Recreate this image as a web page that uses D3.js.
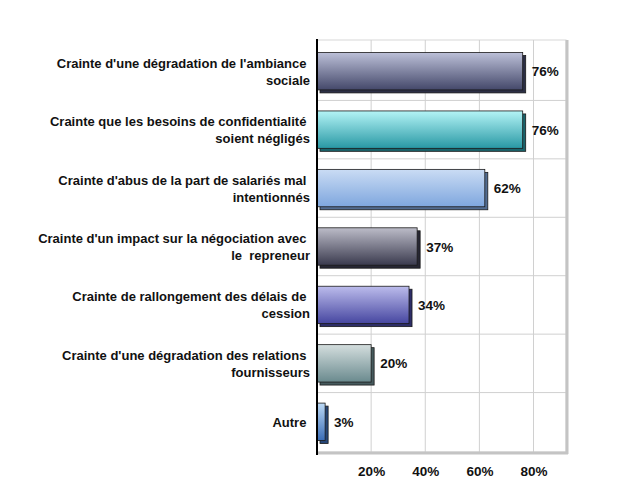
<!DOCTYPE html>
<html>
<head>
<meta charset="utf-8">
<script src="https://cdn.jsdelivr.net/npm/d3@7"></script>
<style>
  body { margin: 0; background: #fff; }
  text { font-family: "Liberation Sans", Arial, sans-serif; font-weight: bold; }
</style>
</head>
<body>
<svg id="chart"></svg>
<script>
// Category labels (two lines each, as in the original)
const labels = [
    ["Crainte d'une dégradation de l'ambiance ", "sociale"],
    ["Crainte que les besoins de confidentialité ", "soient négligés"],
    ["Crainte d'abus de la part de salariés mal ", "intentionnés"],
    ["Crainte d'un impact sur la négociation avec ", "le  repreneur"],
    ["Crainte de rallongement des délais de ", "cession"],
    ["Crainte d'une dégradation des relations ", "fournisseurs"],
    ["Autre "]
];
const values = [76, 76, 62, 37, 34, 20, 3];
const ticks = [20, 40, 60, 80];
const topColors = ["#bcc0d8", "#b4f4f6", "#cadcf4", "#bcbcc8", "#bcbcec", "#d4dede", "#bcdaf6"];
const bottomColors = ["#44486a", "#2898a4", "#7ea6de", "#3a3a4e", "#4646a0", "#6a8a8e", "#3a6cb6"];

const width = 640, height = 497;
const plot = { left: 317, right: 566, top: 42, bottom: 451 };

const svg = d3.select("#chart")
    .attr("width", width)
    .attr("height", height);

const idx = d3.range(values.length);

const x = d3.scaleLinear()
    .domain([0, 92])
    .range([plot.left, plot.right]);

const y = d3.scaleBand()
    .domain(idx)
    .range([plot.top, plot.bottom])
    .paddingInner(0.36)
    .paddingOuter(0.18);

const step = y.step();

// Gradients for bar faces
const defs = svg.append("defs");
idx.forEach(i => {
    const g = defs.append("linearGradient")
        .attr("id", "grad" + i)
        .attr("x1", 0).attr("y1", 0).attr("x2", 0).attr("y2", 1);
    g.append("stop").attr("offset", "0%").attr("stop-color", topColors[i]);
    g.append("stop").attr("offset", "100%").attr("stop-color", bottomColors[i]);
});

// Plot frame
svg.append("rect")
    .attr("x", plot.left)
    .attr("y", plot.top - 2)
    .attr("width", plot.right - plot.left)
    .attr("height", plot.bottom - plot.top + 3)
    .attr("fill", "#fff")
    .attr("stroke", "#d8d8d8")
    .attr("stroke-width", 1);

// Vertical gridlines
svg.append("g")
    .selectAll("line")
    .data(ticks)
    .join("line")
    .attr("x1", d => x(d)).attr("x2", d => x(d))
    .attr("y1", plot.top - 2).attr("y2", plot.bottom + 1)
    .attr("stroke", "#d0d0d0");

// Horizontal gridlines between categories
svg.append("g")
    .selectAll("line")
    .data(idx.slice(1))
    .join("line")
    .attr("x1", plot.left).attr("x2", plot.right)
    .attr("y1", d => plot.top + d * step)
    .attr("y2", d => plot.top + d * step)
    .attr("stroke", "#d0d0d0");

// Right and bottom frame shadow
svg.append("line")
    .attr("x1", plot.right + 1).attr("x2", plot.right + 1)
    .attr("y1", plot.top - 2).attr("y2", plot.bottom + 3)
    .attr("stroke", "#c4c4c4").attr("stroke-width", 3);
svg.append("line")
    .attr("x1", plot.left).attr("x2", plot.right + 2)
    .attr("y1", plot.bottom + 2).attr("y2", plot.bottom + 2)
    .attr("stroke", "#c4c4c4").attr("stroke-width", 3);

// Bars with a small 3D depth
const depth = 3;
const bars = svg.append("g")
    .selectAll("g")
    .data(idx)
    .join("g");

bars.append("rect")
    .attr("x", x(0) + depth)
    .attr("y", i => y(i) + depth)
    .attr("width", i => x(values[i]) - x(0))
    .attr("height", y.bandwidth())
    .attr("fill", i => d3.color(bottomColors[i]).darker(1.2))
    .attr("stroke", "#1a1a1a")
    .attr("stroke-width", 0.8);

bars.append("rect")
    .attr("x", x(0))
    .attr("y", i => y(i))
    .attr("width", i => x(values[i]) - x(0))
    .attr("height", y.bandwidth())
    .attr("fill", i => `url(#grad${i})`)
    .attr("stroke", "#1a1a1a")
    .attr("stroke-width", 0.8);

// Value labels
bars.append("text")
    .attr("x", i => x(values[i]) + depth + 6)
    .attr("y", i => y(i) + y.bandwidth() / 2 + 5)
    .style("font-size", "13.5px")
    .attr("fill", "#111")
    .text(i => values[i] + "%");

// Left axis line
svg.append("line")
    .attr("x1", plot.left).attr("x2", plot.left)
    .attr("y1", plot.top - 3).attr("y2", plot.bottom + 4)
    .attr("stroke", "#000").attr("stroke-width", 2);

// Category labels
const lab = svg.append("g")
    .selectAll("text")
    .data(idx)
    .join("text")
    .attr("text-anchor", "end")
    .style("font-size", "13px")
    .style("white-space", "pre")
    .attr("fill", "#111")
    .attr("y", i => y(i) + y.bandwidth() / 2 + 5 - (labels[i].length - 1) * 8.5);

lab.selectAll("tspan")
    .data(i => labels[i])
    .join("tspan")
    .attr("x", 310)
    .attr("dy", (d, j) => j === 0 ? 0 : 17)
    .text(d => d);

// X axis tick labels
const xAxis = svg.append("g")
    .attr("transform", `translate(0, ${plot.bottom + 12})`)
    .call(d3.axisBottom(x).tickValues(ticks).tickSize(0).tickFormat(d => d + "%"));
xAxis.select(".domain").remove();
xAxis.selectAll("text")
    .style("font-size", "13.5px")
    .style("font-family", "'Liberation Sans', Arial, sans-serif")
    .style("font-weight", "bold")
    .attr("fill", "#111");
</script>
</body>
</html>
